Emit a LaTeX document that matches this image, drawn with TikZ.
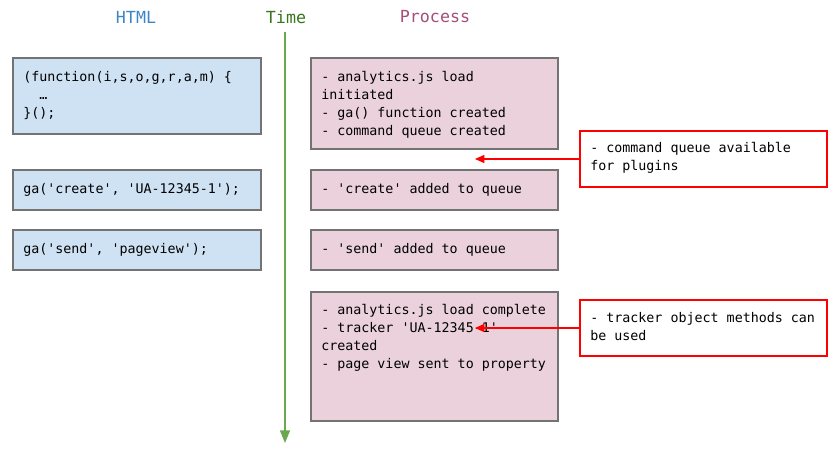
\documentclass[tikz,border=0pt]{standalone}
\usepackage{fontspec}
\setmonofont{DejaVu Sans Mono}
\usetikzlibrary{arrows.meta,fit}
\definecolor{htmlfill}{HTML}{CFE2F3}
\definecolor{procfill}{HTML}{EAD1DC}
\definecolor{boxline}{HTML}{737373}
\definecolor{htmlhead}{HTML}{3D85C6}
\definecolor{timehead}{HTML}{38761D}
\definecolor{prochead}{HTML}{A64D79}
\definecolor{timeline}{HTML}{6AA84F}
\definecolor{callred}{HTML}{FF0000}
\begin{document}
\begin{tikzpicture}[x=0.75pt,y=-0.75pt,
  htmlbox/.style={draw=boxline, fill=htmlfill, line width=1.1pt, inner sep=0pt},
  procbox/.style={draw=boxline, fill=procfill, line width=1.1pt, inner sep=0pt},
  callbox/.style={draw=callred, fill=white, line width=1.1pt, inner sep=0pt},
  code/.style={anchor=north west, inner sep=0pt, align=left, font=\ttfamily\fontsize{10}{13.5}\selectfont},
  head/.style={inner sep=0pt, font=\ttfamily\fontsize{12.5}{15}\selectfont},
  callarrow/.style={draw=callred, line width=1.1pt, -{Triangle[length=7pt,width=6pt]}},
  timearrow/.style={draw=timeline, line width=1.1pt, -{Triangle[length=9.5pt,width=7.5pt]}}
]
\useasboundingbox (0,0) rectangle (837,456);

% headers
\node[head, text=htmlhead] (hhtml) at (136,17) {HTML};
\node[head, text=timehead] (htime) at (286,17) {Time};
\node[head, text=prochead] (hproc) at (435,17) {Process};

% time line
\coordinate (tstart) at (285,32);
\coordinate (tend) at (285,443);
\draw[timearrow] (tstart) -- (tend);

% HTML boxes
\node[htmlbox, fit={(13,58) (261,134)}] (h1) {};
\node[htmlbox, fit={(13,170) (261,210)}] (h2) {};
\node[htmlbox, fit={(13,230) (261,270)}] (h3) {};
\node[code] (h1t) at (23,68.4) {\strut(function(i,s,o,g,r,a,m) \{\\\ \ …\\\}();};
\node[code] (h2t) at (23,180.4) {\strut ga('create', 'UA-12345-1');};
\node[code] (h3t) at (23,240.4) {\strut ga('send', 'pageview');};

% Process boxes
\node[procbox, fit={(311,58) (558,149)}] (p1) {};
\node[procbox, fit={(311,170) (558,210)}] (p2) {};
\node[procbox, fit={(311,230) (558,270)}] (p3) {};
\node[procbox, fit={(311,292) (558,421)}] (p4) {};
\node[code] (p1t) at (321,68.4) {\strut- analytics.js load\\initiated\\- ga() function created\\- command queue created};
\node[code] (p2t) at (321,180.4) {\strut- 'create' added to queue};
\node[code] (p3t) at (321,240.4) {\strut- 'send' added to queue};
\node[code] (p4t) at (321,301.4) {\strut- analytics.js load complete\\- tracker 'UA-12345-1'\\created\\- page view sent to property};

% callouts
\node[callbox, fit={(580,131) (827,187)}] (c1) {};
\node[callbox, fit={(580,300) (827,356)}] (c2) {};
\node[code] (c1t) at (590,139.4) {\strut- command queue available\\for plugins};
\node[code] (c2t) at (590,309.4) {\strut- tracker object methods can\\be used};

\coordinate (a1) at (475,159);
\coordinate (a2) at (475,328);
\draw[callarrow] (c1.west) -- (a1);
\draw[callarrow] (c2.west) -- (a2);
\end{tikzpicture}
\end{document}
